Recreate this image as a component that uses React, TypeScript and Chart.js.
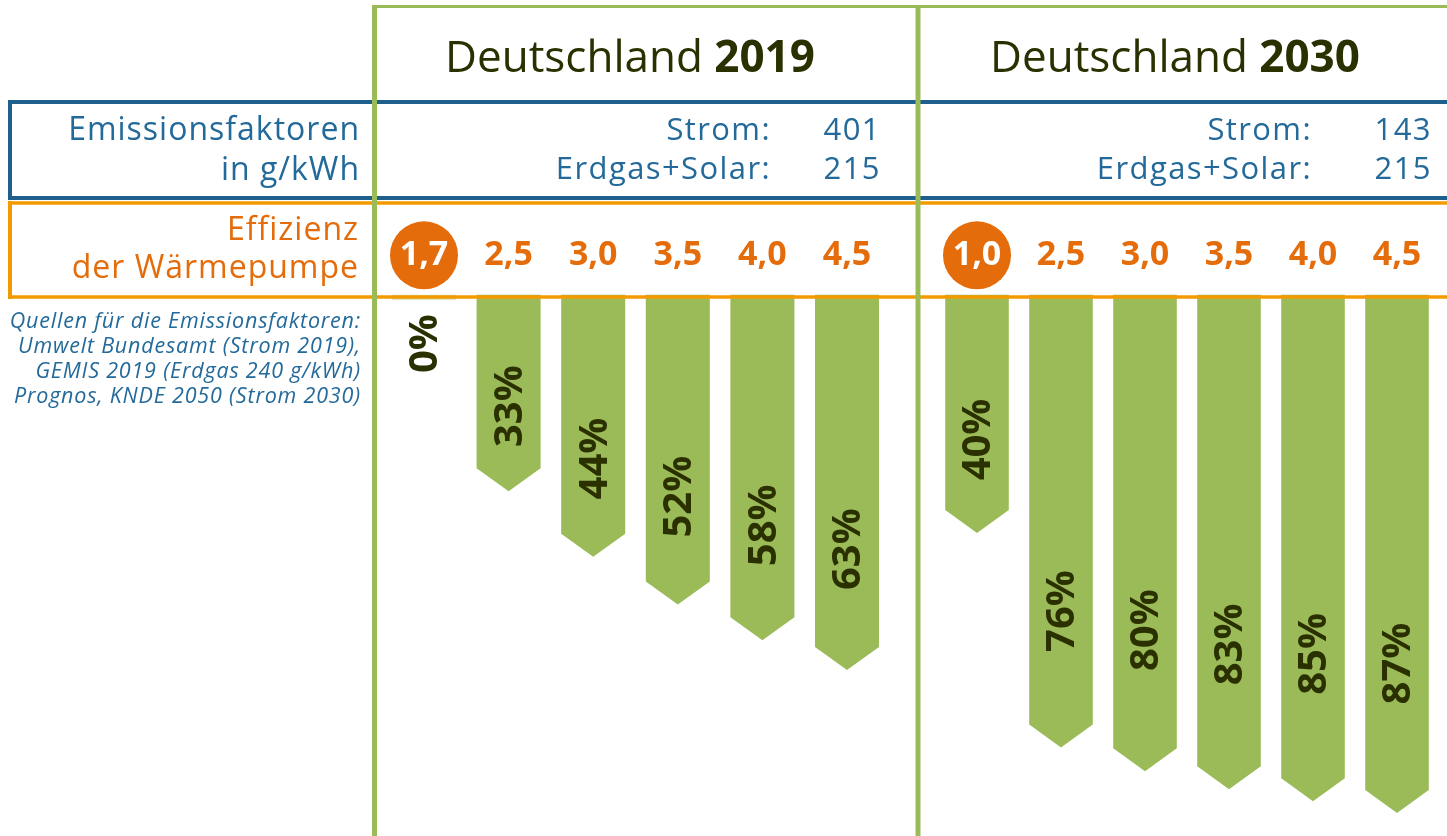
import React, { useEffect, useRef } from 'react';
import { Chart, registerables } from 'chart.js';

Chart.register(...registerables);

// ---- data ----
const years = ['2019', '2030'];
const efficiency2019 = ['1,7', '2,5', '3,0', '3,5', '4,0', '4,5'];
const savings2019 = [0, 33, 44, 52, 58, 63];
const efficiency2030 = ['1,0', '2,5', '3,0', '3,5', '4,0', '4,5'];
const savings2030 = [40, 76, 80, 83, 85, 87];
const stromFactor = [401, 143];
const gasSolarFactor = [215, 215];
const sourceLines = [
  'Quellen für die Emissionsfaktoren:',
  'Umwelt Bundesamt (Strom 2019),',
  'GEMIS 2019 (Erdgas 240 g/kWh)',
  'Prognos, KNDE 2050 (Strom 2030)',
];

// ---- styles ----
const GREEN = '#9BBB59';
const BLUE_LINE = '#1F5F8C';
const BLUE_TEXT = '#236A9A';
const ORANGE_LINE = '#F39A00';
const ORANGE = '#E46C0A';
const DARK = '#2A3000';
const FONT = '"Open Sans", "Noto Sans", sans-serif';
const ARROW = 23;
const CANVAS_TOP = 210;
const CANVAS_H = 626;

const panels = [
  { year: years[0], labels: efficiency2019, values: savings2019, strom: stromFactor[0], gas: gasSolarFactor[0], left: 377, width: 538, padL: 4.7, padR: 25.7, titleX: 630, colonX: 771, numX: 881 },
  { year: years[1], labels: efficiency2030, values: savings2030, strom: stromFactor[1], gas: gasSolarFactor[1], left: 921, width: 526, padL: 14, padR: 8, titleX: 1175, colonX: 1312, numX: 1432 },
];

const circlePlugin = {
  id: 'firstTickCircle',
  beforeDraw(chart: any) {
    const xs = chart.scales.x;
    const ctx = chart.ctx;
    const cx = xs.getPixelForTick(0);
    const cy = chart.chartArea.top - 40.4;
    ctx.save();
    ctx.fillStyle = ORANGE;
    ctx.beginPath();
    ctx.arc(cx, cy + 1, 34, 0, Math.PI * 2);
    ctx.fill();
    ctx.restore();
  },
};

const arrowPlugin = {
  id: 'arrowBars',
  afterDatasetsDraw(chart: any) {
    const ctx = chart.ctx;
    const meta = chart.getDatasetMeta(0);
    const ys = chart.scales.y;
    const vals = chart.data.datasets[0].data as number[];
    ctx.save();
    meta.data.forEach((bar: any, i: number) => {
      const { x, y, base, width } = bar.getProps(['x', 'y', 'base', 'width'], true);
      const l = x - width / 2;
      const r = x + width / 2;
      ctx.beginPath();
      if (y - base < ARROW + 2) {
        ctx.fillStyle = 'rgba(155,187,89,0.45)';
        ctx.rect(l, base, width, 5);
      } else {
        ctx.fillStyle = GREEN;
        ctx.moveTo(l, base);
        ctx.lineTo(r, base);
        ctx.lineTo(r, y - ARROW);
        ctx.lineTo(x, y);
        ctx.lineTo(l, y - ARROW);
        ctx.closePath();
      }
      ctx.fill();
      const v = vals[i];
      const ly = ys.getPixelForValue(Math.max(0.8 * v - 7.7, 8.2));
      ctx.save();
      ctx.translate(x, ly);
      ctx.rotate(-Math.PI / 2);
      ctx.font = `bold 40px ${FONT}`;
      ctx.fillStyle = DARK;
      ctx.textAlign = 'center';
      ctx.textBaseline = 'middle';
      ctx.fillText(`${v}%`, 0, 2);
      ctx.restore();
    });
    ctx.restore();
  },
};

function BarPanel(p: any) {
  const ref = useRef<HTMLCanvasElement>(null);
  useEffect(() => {
    const chart = new Chart(ref.current as HTMLCanvasElement, {
      type: 'bar',
      data: {
        labels: p.labels,
        datasets: [
          {
            data: p.values,
            backgroundColor: 'rgba(0,0,0,0)',
            borderWidth: 0,
            barPercentage: 0.757,
            categoryPercentage: 1,
          },
        ],
      },
      options: {
        responsive: false,
        animation: false,
        events: [],
        layout: { padding: { top: 6.5, left: p.padL, right: p.padR, bottom: 0 } },
        plugins: { legend: { display: false }, tooltip: { enabled: false } },
        scales: {
          x: {
            position: 'top',
            grid: { display: false, drawTicks: false },
            border: { display: false },
            ticks: {
              font: { family: FONT, size: 34, weight: 'bold' },
              color: (c: any) => (c.index === 0 ? '#FFFFFF' : ORANGE),
              padding: 18.7,
              autoSkip: false,
              maxRotation: 0,
            },
          },
          y: { display: false, reverse: true, min: 0, max: 90.85 },
        },
      } as any,
      plugins: [circlePlugin, arrowPlugin],
    });
    return () => chart.destroy();
  }, []);
  return (
    <canvas
      ref={ref}
      width={p.width}
      height={CANVAS_H}
      style={{ position: 'absolute', left: p.left, top: CANVAS_TOP, width: p.width, height: CANVAS_H }}
    />
  );
}

export default function App() {
  return (
    <div style={{ position: 'absolute', left: 0, top: 0, width: 1447, height: 836, background: '#fff', overflow: 'hidden' }}>
      {panels.map((p) => (
        <BarPanel key={p.year} {...p} />
      ))}
      <svg width={1447} height={836} style={{ position: 'absolute', left: 0, top: 0, pointerEvents: 'none' }}>
        {/* blue box */}
        <line x1={8} x2={1447} y1={102} y2={102} stroke={BLUE_LINE} strokeWidth={4} />
        <line x1={8} x2={1447} y1={198} y2={198} stroke={BLUE_LINE} strokeWidth={4} />
        <line x1={10} x2={10} y1={100} y2={200} stroke={BLUE_LINE} strokeWidth={4} />
        {/* orange box */}
        <line x1={8} x2={1447} y1={203} y2={203} stroke={ORANGE_LINE} strokeWidth={3.5} />
        <line x1={8} x2={1447} y1={297} y2={297} stroke={ORANGE_LINE} strokeWidth={3.5} />
        <line x1={10} x2={10} y1={201} y2={299} stroke={ORANGE_LINE} strokeWidth={4} />
        {/* green frame */}
        <line x1={372} x2={1447} y1={6.5} y2={6.5} stroke={GREEN} strokeWidth={3} />
        <line x1={374.5} x2={374.5} y1={5} y2={836} stroke={GREEN} strokeWidth={5} />
        <line x1={918} x2={918} y1={5} y2={836} stroke={GREEN} strokeWidth={5} />

        {/* left labels */}
        <g fontFamily={FONT} textAnchor="end">
          <text x={360} y={140} fontSize={32} fill={BLUE_TEXT} letterSpacing={1}>Emissionsfaktoren</text>
          <text x={360} y={180} fontSize={32} fill={BLUE_TEXT} letterSpacing={1}>in g/kWh</text>
          <text x={359} y={240} fontSize={32} fill={ORANGE} letterSpacing={1}>Effizienz</text>
          <text x={359} y={278} fontSize={32} fill={ORANGE} letterSpacing={1}>der Wärmepumpe</text>
          {sourceLines.map((s, i) => (
            <text key={i} x={361} y={328 + i * 25} fontSize={21.5} fontStyle="italic" fill={BLUE_TEXT} letterSpacing={0.8}>
              {s}
            </text>
          ))}
        </g>

        {/* panel headers */}
        {panels.map((p) => (
          <g key={p.year} fontFamily={FONT}>
            <text x={p.titleX} y={72} fontSize={44} fill={DARK} textAnchor="middle">
              Deutschland <tspan fontWeight="bold">{p.year}</tspan>
            </text>
            <text x={p.colonX} y={140} fontSize={31} fill={BLUE_TEXT} textAnchor="end" letterSpacing={1.4}>Strom:</text>
            <text x={p.numX} y={140} fontSize={31} fill={BLUE_TEXT} textAnchor="end" letterSpacing={1.4}>{p.strom}</text>
            <text x={p.colonX} y={179} fontSize={31} fill={BLUE_TEXT} textAnchor="end" letterSpacing={1.4}>Erdgas+Solar:</text>
            <text x={p.numX} y={179} fontSize={31} fill={BLUE_TEXT} textAnchor="end" letterSpacing={1.4}>{p.gas}</text>
          </g>
        ))}
      </svg>
    </div>
  );
}
